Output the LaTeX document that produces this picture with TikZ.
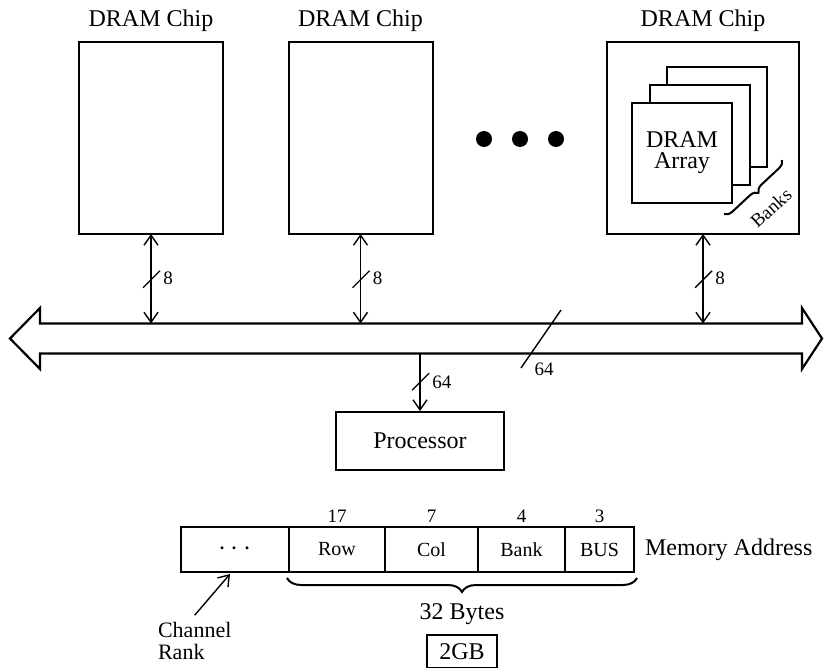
\documentclass[tikz,border=0pt]{standalone}
\usepackage{fontspec}
\setmainfont{Liberation Serif}
\usetikzlibrary{positioning,arrows.meta,decorations.pathreplacing}

\tikzset{
    chip/.style={draw, line width=1pt, inner sep=0pt, outer sep=0pt, minimum height=96pt},
    bank/.style={draw, fill=white, line width=1pt, inner sep=0pt, minimum size=50pt, align=center, font=\fontsize{12}{10.5}\selectfont},
    field/.style={draw, line width=1pt, inner sep=0pt, outer sep=0pt, minimum height=22.5pt, font=\fontsize{10}{12}\selectfont},
    lbl/.style={inner sep=1pt, font=\fontsize{9.5}{11}\selectfont},
    big/.style={font=\fontsize{12}{14}\selectfont},
    link/.style={line width=0.7pt},
    >={Straight Barb[length=5pt,width=7pt]}
}

\begin{document}
\begin{tikzpicture}[x=0.5pt, y=-0.5pt]
    \useasboundingbox (0,0) rectangle (824,668);

    % chips
    \node[chip, minimum width=72pt] (chip1) at (151,138) {};
    \node[chip, minimum width=72pt] (chip2) at (360.5,138) {};
    \node[chip, minimum width=96pt] (chip3) at (703,138) {};
    \node[big, above=1.5pt of chip1] {DRAM Chip};
    \node[big, above=1.5pt of chip2] {DRAM Chip};
    \node[big, above=1.5pt of chip3] {DRAM Chip};

    \fill (484,139) circle[radius=4pt];
    \fill (520,139) circle[radius=4pt];
    \fill (556,139) circle[radius=4pt];

    % banks inside the last chip
    \node[bank] (bankC) at (717,117) {};
    \node[bank] (bankB) at (699.5,135) {};
    \node[bank] (bankA) at (682,153) {DRAM\\Array};
    \draw[line width=1pt, decorate, decoration={brace, amplitude=4pt}] (782,160) -- (724,214);
    \node[lbl, rotate=42] at (771,208) {Banks};

    % bus
    \coordinate (bustop) at (0,323.5);
    \coordinate (busbot) at (0,353.5);
    \draw[line width=1.1pt] (40,323.5) -- (802,323.5) -- (802,308) -- (822,338.5) -- (802,369)
        -- (802,353.5) -- (40,353.5) -- (40,369) -- (10,338.5) -- (40,308) -- cycle;

    \draw[link, <->] (chip1.south) -- coordinate[pos=.5] (m1) (chip1.south |- bustop);
    \draw[link, <->] (chip2.south) -- coordinate[pos=.5] (m2) (chip2.south |- bustop);
    \draw[link, <->] (chip3.south) -- coordinate[pos=.5] (m3) (chip3.south |- bustop);
    \draw[link] (m1) ++(-8,9) -- ++(17,-17);
    \draw[link] (m2) ++(-8,9) -- ++(17,-17);
    \draw[link] (m3) ++(-8,9) -- ++(17,-17);
    \node[lbl, anchor=west] at ([xshift=5pt]m1) {8};
    \node[lbl, anchor=west] at ([xshift=5pt]m2) {8};
    \node[lbl, anchor=west] at ([xshift=5pt]m3) {8};

    \coordinate (bus64) at (541,339);
    \draw[link] (bus64) ++(20,-29) -- ++(-40,58);
    \node[lbl] at (544,369) {64};

    % processor
    \node[draw, big, line width=1pt, minimum width=84pt, minimum height=29pt] (proc) at (420,441) {Processor};
    \draw[link, ->] (proc.north |- busbot) -- coordinate[pos=.5] (m4) (proc.north);
    \draw[link] (m4) ++(-8,8) -- ++(17,-17);
    \node[lbl, anchor=west] at ([xshift=5pt]m4) {64};

    % address fields
    \node[field, minimum width=54pt] (adots) at (235,549.5) {\fontsize{14}{14}\selectfont${\cdot}\,{\cdot}\,{\cdot}$};
    \node[field, minimum width=48pt, right=0pt of adots] (arow) {Row};
    \node[field, minimum width=46.5pt, right=0pt of arow] (acol) {Col};
    \node[field, minimum width=43.5pt, right=0pt of acol] (abank) {Bank};
    \node[field, minimum width=34.5pt, right=0pt of abank] (abus) {BUS};
    \node[lbl, above=1pt of arow] {17};
    \node[lbl, above=1pt of acol] {7};
    \node[lbl, above=1pt of abank] {4};
    \node[lbl, above=1pt of abus] {3};
    \node[big, right=2pt of abus] {Memory Address};

    \draw[line width=1pt, decorate, decoration={brace, amplitude=7pt}]
        ([xshift=1.5pt, yshift=-3pt]abus.south east) -- ([xshift=-1pt, yshift=-3pt]arow.south west)
        node[big, midway, below=9pt] (bytes) {32 Bytes};

    \node[anchor=west, align=left, font=\fontsize{11}{11}\selectfont] (chrank) at (151,641) {Channel\\Rank};
    \draw[link, ->] (chrank.north) -- ([xshift=-2.5pt, yshift=-1pt]adots.south);

    \node[draw, big, line width=1pt, inner sep=0pt, minimum width=35pt, minimum height=16.5pt] (size) at (462,651.5) {2GB};
\end{tikzpicture}
\end{document}
